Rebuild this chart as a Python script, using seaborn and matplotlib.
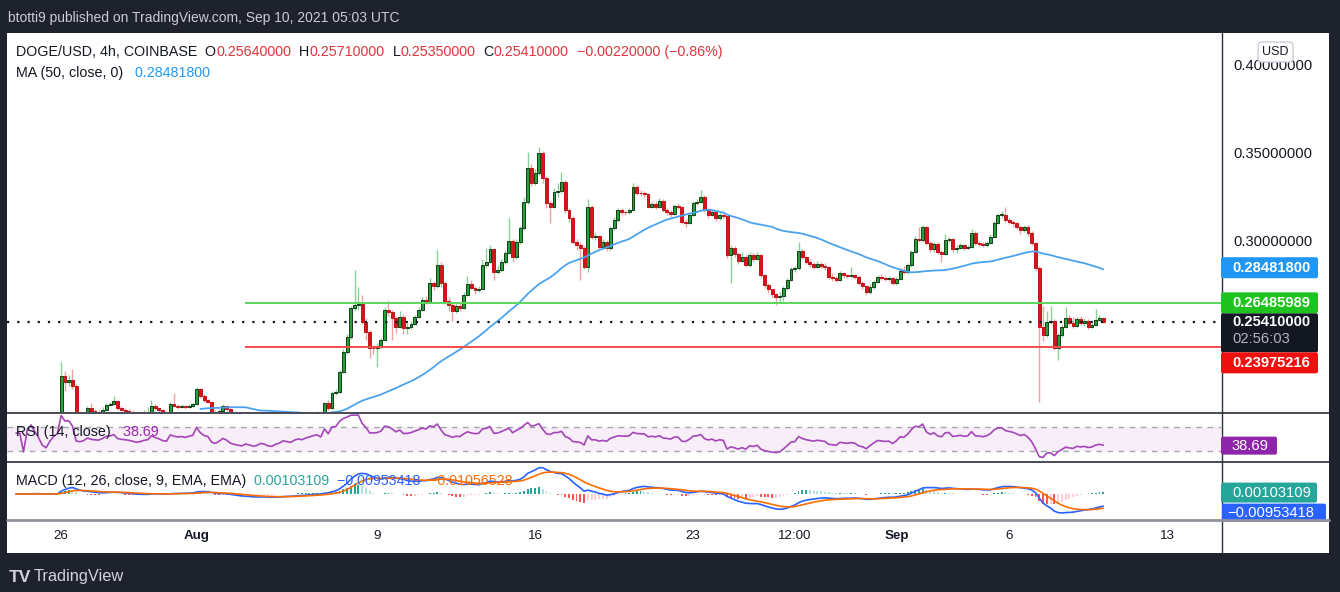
import numpy as np
import pandas as pd
import matplotlib
matplotlib.use("Agg")
import matplotlib.pyplot as plt
import matplotlib.dates as mdates
import seaborn as sns
from matplotlib.patches import Rectangle, FancyBboxPatch
from matplotlib.lines import Line2D
from matplotlib.transforms import IdentityTransform

# ---------------- data (DOGE/USD 4h, Coinbase) ----------------
start_time = "2021-07-24 00:00"
first_open = 0.1980
closes = [
    .1985, .1990, .1978, .1995, .2005, .1998, .1990, .1975, .1968, .1980,
    .1992, .2000, .2233, .2200, .2212, .2175, .2010, .2000, .2015, .2050,
    .2032, .2025, .2022, .2042, .2068, .2074, .2091, .2049, .2040, .2036,
    .2030, .2020, .2010, .2015, .2025, .2030, .2064, .2050, .2040, .2025,
    .2020, .2074, .2064, .2058, .2062, .2056, .2065, .2072, .2158, .2119,
    .2097, .2087, .2030, .2015, .2035, .2063, .2045, .2010, .1995, .1985,
    .1975, .1990, .1980, .1965, .1970, .1985, .1978, .1960, .1955, .1968,
    .1975, .1990, .1985, .1978, .1992, .2000, .1995, .2005, .2012, .2020,
    .2025, .2015, .2078, .2050, .2134, .2140, .2257, .2371, .2453, .2618,
    .2636, .2642, .2542, .2485, .2392, .2390, .2400, .2437, .2608, .2598,
    .2561, .2513, .2570, .2506, .2510, .2530, .2570, .2608, .2665, .2650,
    .2760, .2745, .2864, .2760, .2659, .2636, .2600, .2630, .2622, .2693,
    .2756, .2735, .2720, .2730, .2864, .2883, .2953, .2826, .2835, .2880,
    .2934, .3002, .2911, .2996, .3072, .3223, .3413, .3330, .3385, .3498,
    .3356, .3214, .3195, .3280, .3282, .3337, .3176, .3129, .2996, .2977,
    .2958, .2854, .3196, .3025, .3028, .2968, .2996, .2958, .3072, .3119,
    .3176, .3165, .3162, .3175, .3305, .3275, .3270, .3265, .3196, .3210,
    .3195, .3229, .3176, .3167, .3152, .3199, .3195, .3110, .3105, .3148,
    .3214, .3223, .3252, .3176, .3148, .3165, .3129, .3150, .3140, .2920,
    .2958, .2928, .2888, .2911, .2864, .2920, .2900, .2920, .2807, .2750,
    .2725, .2697, .2680, .2690, .2731, .2778, .2839, .2845, .2945, .2907,
    .2883, .2868, .2855, .2870, .2860, .2850, .2797, .2790, .2778, .2816,
    .2805, .2800, .2808, .2798, .2760, .2745, .2712, .2741, .2769, .2797,
    .2792, .2785, .2788, .2760, .2785, .2831, .2825, .2864, .2939, .3010,
    .3005, .3078, .2987, .2953, .2985, .2939, .2926, .3006, .3010, .2953,
    .2962, .2975, .2960, .2968, .3044, .2987, .2985, .2975, .2990, .3025,
    .3101, .3148, .3150, .3119, .3110, .3100, .3082, .3063, .3080, .3047,
    .2987, .2845, .2513, .2466, .2542, .2545, .2390, .2466, .2513, .2561,
    .2532, .2515, .2555, .2535, .2545, .2510, .2520, .2551, .2564, .2541,
]
highs = [
    .1995, .2000, .1996, .2003, .2015, .2012, .2004, .1995, .1982, .1988,
    .1998, .2010, .2314, .2262, .2240, .2273, .2185, .2022, .2028, .2065,
    .2082, .2045, .2038, .2055, .2078, .2088, .2121, .2098, .2062, .2050,
    .2045, .2040, .2028, .2025, .2040, .2055, .2097, .2072, .2058, .2048,
    .2035, .2085, .2134, .2075, .2072, .2070, .2075, .2082, .2172, .2165,
    .2128, .2105, .2092, .2040, .2045, .2075, .2068, .2050, .2015, .2002,
    .1992, .1998, .1996, .1985, .1980, .1992, .1990, .1982, .1968, .1975,
    .1982, .1998, .1995, .1990, .1998, .2008, .2005, .2012, .2020, .2028,
    .2035, .2032, .2088, .2095, .2145, .2160, .2268, .2385, .2470, .2630,
    .2835, .2740, .2693, .2560, .2495, .2410, .2420, .2450, .2625, .2665,
    .2610, .2575, .2600, .2585, .2535, .2545, .2582, .2625, .2680, .2690,
    .2790, .2775, .2949, .2880, .2775, .2680, .2645, .2650, .2645, .2710,
    .2800, .2780, .2745, .2745, .2900, .2960, .2980, .2960, .2865, .2900,
    .2950, .3130, .3010, .3010, .3085, .3250, .3507, .3440, .3410, .3532,
    .3510, .3370, .3230, .3300, .3330, .3394, .3345, .3190, .3140, .3010,
    .2995, .2970, .3240, .3205, .3050, .3035, .3010, .3005, .3085, .3135,
    .3190, .3190, .3175, .3190, .3330, .3320, .3290, .3282, .3275, .3225,
    .3230, .3245, .3240, .3185, .3175, .3210, .3215, .3200, .3125, .3165,
    .3230, .3240, .3290, .3262, .3185, .3180, .3172, .3165, .3160, .3145,
    .2975, .2970, .2935, .2940, .2920, .2935, .2930, .2935, .2925, .2815,
    .2760, .2730, .2705, .2710, .2745, .2790, .2850, .2860, .2996, .2955,
    .2915, .2895, .2880, .2885, .2880, .2875, .2858, .2820, .2800, .2830,
    .2825, .2815, .2850, .2815, .2805, .2772, .2752, .2755, .2780, .2805,
    .2810, .2800, .2800, .2795, .2795, .2845, .2860, .2875, .2950, .3030,
    .3080, .3090, .3085, .3000, .2995, .2995, .2950, .3040, .3025, .3018,
    .2975, .2990, .2985, .2980, .3070, .3055, .3000, .2995, .3002, .3040,
    .3115, .3160, .3170, .3196, .3130, .3120, .3110, .3090, .3092, .3090,
    .3055, .2995, .2860, .2630, .2600, .2631, .2555, .2475, .2525, .2623,
    .2580, .2570, .2570, .2575, .2560, .2555, .2535, .2612, .2580, .2571,
]
lows = [
    .1972, .1978, .1970, .1974, .1990, .1990, .1983, .1968, .1958, .1962,
    .1975, .1985, .1995, .2145, .2175, .2160, .1990, .1985, .1992, .2008,
    .2020, .2012, .2010, .2015, .2035, .2060, .2066, .2040, .2032, .2028,
    .2020, .2010, .2000, .2002, .2008, .2018, .2025, .2040, .2030, .2015,
    .2008, .2015, .2055, .2048, .2050, .2046, .2050, .2058, .2068, .2110,
    .2088, .2078, .2020, .2005, .2010, .2030, .2035, .2000, .1985, .1975,
    .1965, .1968, .1972, .1955, .1958, .1965, .1970, .1950, .1945, .1950,
    .1962, .1970, .1978, .1970, .1972, .1988, .1988, .1990, .2000, .2008,
    .2015, .2008, .2010, .2040, .2045, .2125, .2135, .2250, .2360, .2445,
    .2600, .2610, .2530, .2440, .2335, .2360, .2285, .2390, .2430, .2575,
    .2438, .2480, .2505, .2470, .2470, .2500, .2522, .2560, .2600, .2640,
    .2645, .2720, .2735, .2740, .2640, .2600, .2545, .2590, .2605, .2615,
    .2685, .2725, .2700, .2712, .2725, .2850, .2875, .2780, .2810, .2825,
    .2870, .2925, .2880, .2900, .2985, .3060, .3210, .3310, .3320, .3375,
    .3330, .3190, .3102, .3185, .3250, .3270, .3160, .3110, .2985, .2950,
    .2778, .2840, .2826, .3010, .3005, .2955, .2960, .2945, .2950, .3065,
    .3110, .3150, .3148, .3155, .3168, .3260, .3255, .3245, .3185, .3185,
    .3180, .3185, .3165, .3150, .3135, .3145, .3180, .3095, .3080, .3095,
    .3140, .3205, .3215, .3165, .3130, .3140, .3115, .3120, .3125, .2905,
    .2760, .2910, .2870, .2880, .2850, .2855, .2880, .2890, .2795, .2735,
    .2705, .2680, .2636, .2650, .2660, .2720, .2770, .2825, .2838, .2895,
    .2870, .2855, .2840, .2845, .2848, .2835, .2785, .2775, .2765, .2770,
    .2790, .2788, .2795, .2785, .2748, .2730, .2695, .2700, .2730, .2760,
    .2780, .2772, .2770, .2748, .2750, .2778, .2815, .2815, .2855, .2930,
    .2995, .2995, .2975, .2940, .2940, .2925, .2880, .2920, .2995, .2940,
    .2930, .2955, .2950, .2952, .2960, .2975, .2972, .2965, .2968, .2985,
    .3020, .3095, .3130, .3110, .3095, .3080, .3070, .3040, .3050, .3030,
    .2975, .2830, .2087, .2430, .2455, .2530, .2380, .2324, .2455, .2505,
    .2520, .2505, .2510, .2525, .2515, .2500, .2505, .2515, .2545, .2535,
]

support_level = 0.23975216
resistance_level = 0.26485989
level_start = "2021-08-03 04:00"
price_ticks = [0.30, 0.35, 0.40]
tick_dates = ["2021-07-26", "2021-08-01", "2021-08-09", "2021-08-16", "2021-08-23",
              "2021-08-27 12:00", "2021-09-01", "2021-09-06", "2021-09-13"]
tick_labels = ["26", "Aug", "9", "16", "23", "12:00", "Sep", "6", "13"]
bold_ticks = ["Aug", "Sep"]

header = "btotti9 published on TradingView.com, Sep 10, 2021 05:03 UTC"
ohlc_text = ["0.25640000", "0.25710000", "0.25350000", "0.25410000", "\u22120.00220000 (\u22120.86%)"]
ma_value_text = "0.28481800"
rsi_value = 38.69
macd_values = [0.00103109, -0.00953418, -0.01056528]
countdown = "02:56:03"

# ---------------- derived series ----------------
n = len(closes)
opens = [first_open] + closes[:-1]
df = pd.DataFrame({
    "time": pd.date_range(start_time, periods=n, freq="4h"),
    "open": opens, "high": highs, "low": lows, "close": closes,
})
df["x"] = mdates.date2num(df["time"])
df["ma"] = df["close"].rolling(50).mean()
d = df["close"].diff().fillna(0)
up_r = d.clip(lower=0).ewm(alpha=1 / 14, adjust=False).mean()
dn_r = (-d.clip(upper=0)).ewm(alpha=1 / 14, adjust=False).mean()
df["rsi"] = 100 - 100 / (1 + up_r / dn_r.replace(0, np.nan))
df["rsi"] = df["rsi"].fillna(60)
ema12 = df["close"].ewm(span=12, adjust=False).mean()
ema26 = df["close"].ewm(span=26, adjust=False).mean()
df["macd"] = ema12 - ema26
df["signal"] = df["macd"].ewm(span=9, adjust=False).mean()
df["hist"] = df["macd"] - df["signal"]

# ---------------- figure ----------------
sns.set_theme(style="white")
plt.rcParams["font.family"] = ["Liberation Sans", "DejaVu Sans"]
plt.rcParams["axes.unicode_minus"] = True

W, H = 1340, 592
fig = plt.figure(figsize=(W / 100, H / 100), dpi=100)
fig.patch.set_facecolor("#1e222d")
ID = IdentityTransform()

def pbox(x0, y0, x1, y1, z=5, r=2, **kw):
    p = FancyBboxPatch((x0, H - y1), x1 - x0, y1 - y0, transform=ID,
                       boxstyle=f"round,pad=0,rounding_size={r}", zorder=z, **kw)
    fig.add_artist(p)
    return p

def pline(x0, y0, x1, y1, **kw):
    fig.add_artist(Line2D([x0, x1], [H - y0, H - y1], transform=ID, **kw))

def ptext(x, y, s, **kw):
    return fig.text(x, H - y, s, transform=ID, **kw)

fig.add_artist(Rectangle((7, H - 553), 1329 - 7, 553 - 33, transform=ID,
                         facecolor="white", edgecolor="none", zorder=0))

LPX, RPX = 7, 1221

def add_ax(top, bot):
    a = fig.add_axes([LPX / W, 1 - bot / H, (RPX - LPX) / W, (bot - top) / H])
    a.set_facecolor("none")
    for s in a.spines.values():
        s.set_visible(False)
    a.set_xticks([])
    a.set_yticks([])
    return a

ax = add_ax(33, 412)
ax_rsi = add_ax(412, 461)
ax_macd = add_ax(461, 519)

x0 = df["x"].iloc[0]
step = 1 / 6
xlim = (x0 - 2.39 * step, x0 + 320.3 * step)
for a in (ax, ax_rsi, ax_macd):
    a.set_xlim(*xlim)
ax.set_ylim(0.20284, 0.41818)
ax_rsi.set_ylim(12.4, 96.2)
ax_macd.set_ylim(-0.0185, 0.0244)

# candles
o = df["open"].values; c = df["close"].values
hi = df["high"].values; lo = df["low"].values; xs = df["x"].values
up = c >= o
wick_cols = np.where(up, "#8ccf96", "#f2a1a1")
ax.vlines(xs, lo, hi, colors=wick_cols, lw=1.0, zorder=2)
bottoms = np.minimum(o, c)
heights = np.maximum(np.abs(c - o), 0.0003)
bw = 0.78 * step
ax.bar(xs[up], heights[up], bottom=bottoms[up], width=bw, color="#22a237",
       edgecolor="#123d1a", linewidth=0.7, zorder=3)
ax.bar(xs[~up], heights[~up], bottom=bottoms[~up], width=bw, color="#d9141c",
       edgecolor="#c0141a", linewidth=0.7, zorder=3)

# MA
ma_df = df.dropna(subset=["ma"])
sns.lineplot(x=ma_df["x"], y=ma_df["ma"], ax=ax, color="#4ba3ef", linewidth=1.3, zorder=4)

# levels
ls_x = mdates.date2num(pd.Timestamp(level_start))
ax.hlines(resistance_level, ls_x, xlim[1], color="#5cd65c", lw=1.4, zorder=5)
ax.hlines(support_level, ls_x, xlim[1], color="#f24d4d", lw=1.4, zorder=5)
ax.axhline(closes[-1], color="#131722", lw=1.6, linestyle=(0, (1, 3.6)), zorder=5)

ax.set_xlabel(""); ax.set_ylabel("")
ax.yaxis.tick_right()
ax.set_yticks(price_ticks)
ax.set_yticklabels([f"{v:.8f}" for v in price_ticks])
ax.tick_params(axis="y", length=0, pad=8.6, labelsize=10.6, labelcolor="#131722")

# RSI
ax_rsi.axhspan(30, 70, color="#9c27b0", alpha=0.08, lw=0)
for lvl in (70, 30):
    ax_rsi.axhline(lvl, color="#a3a6af", lw=1.0, linestyle=(0, (4, 4)))
sns.lineplot(x=df["x"], y=df["rsi"], ax=ax_rsi, color="#a445b8", linewidth=1.2)
ax_rsi.set_xlabel(""); ax_rsi.set_ylabel("")

# MACD
hist = df["hist"].values
prev = np.concatenate([[0], hist[:-1]])
hcols = np.where(hist >= 0, np.where(hist > prev, "#26a69a", "#b2dfdb"),
                 np.where(hist > prev, "#ffcdd2", "#ff5252"))
ax_macd.bar(xs, hist, width=0.5 * step, color=hcols, linewidth=0)
sns.lineplot(x=df["x"], y=df["macd"], ax=ax_macd, color="#2962ff", linewidth=1.2)
sns.lineplot(x=df["x"], y=df["signal"], ax=ax_macd, color="#ff6d00", linewidth=1.2)
ax_macd.set_xlabel(""); ax_macd.set_ylabel("")

for a in (ax, ax_rsi, ax_macd):
    a.set_xticks([])
    if a is not ax:
        a.set_yticks([])

# separators
pline(7, 412.5, 1329, 412.5, color="#2a2e39", lw=1.2, zorder=6)
pline(7, 461.5, 1329, 461.5, color="#2a2e39", lw=1.2, zorder=6)
pline(7, 519.5, 1329, 519.5, color="#8f929b", lw=2.0, zorder=8)
pline(1221.5, 33, 1221.5, 553, color="#2a2e39", lw=1.0, zorder=6)

def ypix(a, v):
    return H - a.transData.transform((a.get_xlim()[0], v))[1]

def xpix(a, v):
    return a.transData.transform((v, a.get_ylim()[0]))[0]

# x labels
for dt, lab in zip(tick_dates, tick_labels):
    xp = xpix(ax_macd, mdates.date2num(pd.Timestamp(dt)))
    ptext(xp, 536, lab, ha="center", va="center", fontsize=9.6, color="#131722",
          fontweight="bold" if lab in bold_ticks else "normal")

# price label boxes
FS = 10.6
def label_box(yc, h, fc, text, x1=1318, tc="white", z=7):
    pbox(1221, yc - h / 2, x1, yc + h / 2, z=z, facecolor=fc, edgecolor="none")
    ptext(1232, yc, text, ha="left", va="center", fontsize=FS, color=tc,
          fontweight="bold", zorder=z + 1)

y_ma = ypix(ax, float(ma_value_text))
label_box(y_ma, 21, "#2196f3", ma_value_text)
y_res = ypix(ax, resistance_level)
label_box(y_res, 21, "#1fc21f", f"{resistance_level:.8f}")
y_last = ypix(ax, closes[-1])
blk_top = y_res + 10.5
pbox(1221, blk_top, 1318, blk_top + 39, z=7, facecolor="#131722", edgecolor="none")
ptext(1232, y_last, f"{closes[-1]:.8f}", ha="left", va="center", fontsize=FS,
      color="white", fontweight="bold", zorder=8)
ptext(1232, y_last + 17, countdown, ha="left", va="center", fontsize=FS,
      color="#b2b5be", zorder=8)
label_box(blk_top + 39 + 10.5, 21, "#f00f0f", f"{support_level:.8f}")

# RSI label
y_r = ypix(ax_rsi, rsi_value)
pbox(1221, y_r - 9, 1277, y_r + 9, z=7, facecolor="#8e24aa", edgecolor="none")
ptext(1232, y_r, f"{rsi_value:.2f}", ha="left", va="center", fontsize=FS, color="white", zorder=8)

# MACD labels
y_h = ypix(ax_macd, macd_values[0])
pbox(1221, y_h - 10, 1317, y_h + 10, z=7, facecolor="#26a69a", edgecolor="none")
ptext(1232, y_h, f"{macd_values[0]:.8f}", ha="left", va="center", fontsize=FS, color="white", zorder=8)
pbox(1222, y_h + 11, 1326, y_h + 29, z=7, facecolor="#2962ff", edgecolor="none")
ptext(1227, y_h + 20, f"{macd_values[1]:.8f}".replace("-", "\u2212"), ha="left", va="center",
      fontsize=FS, color="white", zorder=8)

# USD badge
pbox(1258, 42, 1293, 62, z=9, r=4, facecolor="white", edgecolor="#c9ccd4", lw=1)
ptext(1275.5, 52, "USD", ha="center", va="center", fontsize=9, color="#131722", zorder=10)

# header / legends
ptext(8, 18, header, ha="left", va="center", fontsize=10, color="#c9ccd4")
renderer = fig.canvas.get_renderer()

def rich(x, y, pieces, size=10.3):
    for s, col in pieces:
        t = ptext(x, y, s, ha="left", va="center", fontsize=size, color=col, zorder=9)
        x += t.get_window_extent(renderer).width

LBL = "#131722"; RED = "#e0343a"
rich(16, 52, [("DOGE/USD, 4h, COINBASE", LBL), ("  O", LBL), (ohlc_text[0], RED),
              ("  H", LBL), (ohlc_text[1], RED), ("  L", LBL), (ohlc_text[2], RED),
              ("  C", LBL), (ohlc_text[3], RED), ("  " + ohlc_text[4], RED)])
rich(16, 73, [("MA (50, close, 0)", LBL), ("   " + ma_value_text, "#2196f3")])
rich(16, 432, [("RSI (14, close)", LBL), ("   " + f"{rsi_value:.2f}", "#9c27b0")])
mv = [f"{v:.8f}".replace("-", "\u2212") for v in macd_values]
rich(16, 481, [("MACD (12, 26, close, 9, EMA, EMA)", LBL), ("  " + mv[0], "#26a69a"),
               ("  " + mv[1], "#2962ff"), ("  " + mv[2], "#ff6d00")])

# footer
ptext(9, 577, "TV", ha="left", va="center", fontsize=12.5, fontweight="bold", color="#d1d4dc")
ptext(34, 577, "TradingView", ha="left", va="center", fontsize=11.8, color="#d1d4dc")

fig.savefig("out.png", dpi=100, facecolor=fig.get_facecolor())
